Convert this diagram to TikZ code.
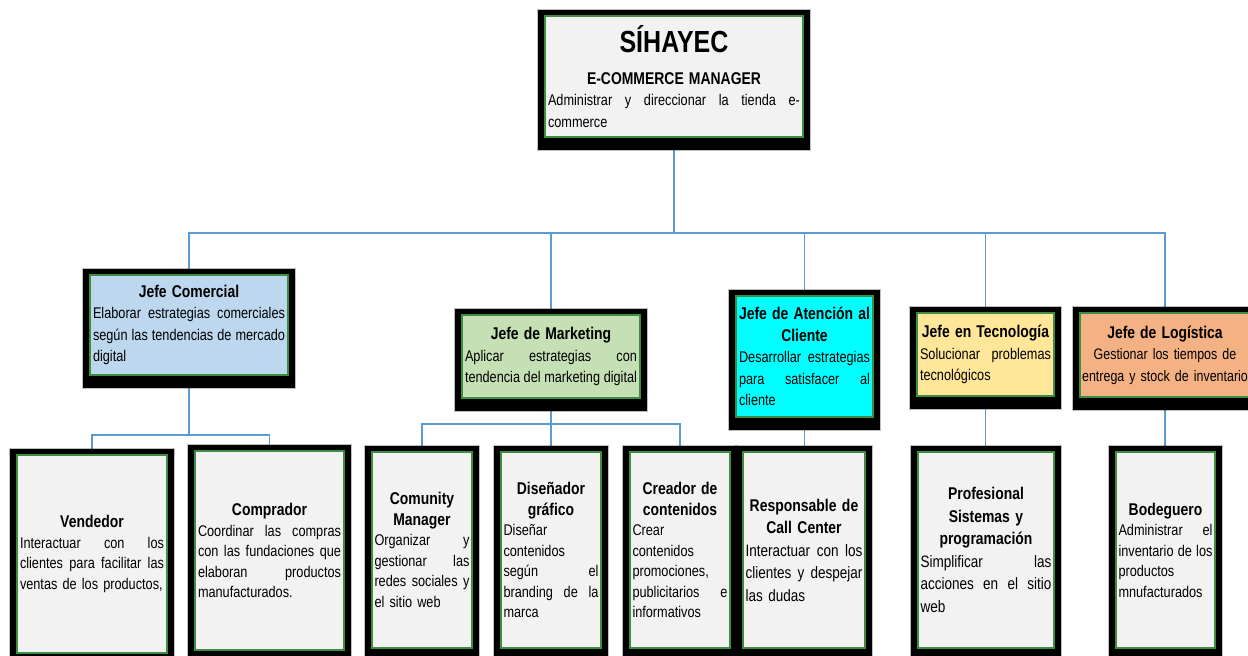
\documentclass[tikz,border=0pt]{standalone}
\usepackage{fontspec}
\setmainfont{Liberation Sans}[FakeStretch=0.82]
\pgfdeclarelayer{background}
\pgfdeclarelayer{frames}
\pgfsetlayers{background,frames,main}
\definecolor{paper}{HTML}{F2F2F2}
\definecolor{skyblue}{HTML}{BDD7EE}
\definecolor{sage}{HTML}{C5E0B4}
\definecolor{aqua}{HTML}{00FFFF}
\definecolor{butter}{HTML}{FFE699}
\definecolor{peach}{HTML}{F4B183}
\definecolor{cardedge}{HTML}{3E8E41}
\definecolor{linkblue}{HTML}{5B9BD5}
\setlength\parindent{0pt}
\setlength\parskip{0pt}
% justified line, plain line, centred line, centred bold heading
\newcommand\jl[1]{\makebox[\hsize][s]{\spaceskip=0pt\xspaceskip=0pt\relax #1}}
\newcommand\pl[1]{\makebox[\hsize][l]{#1}}
\newcommand\cl[1]{\makebox[\hsize][c]{#1}}
\newcommand\ttl[1]{\makebox[\hsize][c]{\fontsize{17}{20}\selectfont\bfseries #1}}
\begin{document}
\begin{tikzpicture}[x=1pt,y=-1pt,
  card/.style={draw=cardedge, line width=1.2pt, rectangle, inner xsep=2.5pt,
    inner ysep=2pt, align=left, font=\fontsize{15.5}{21.5}\selectfont},
  lowcard/.style={card, minimum height=196pt, font=\fontsize{15.5}{20.5}\selectfont},
  link/.style={draw=linkblue, line width=1.3pt}]
\useasboundingbox (0,0) rectangle (1248,656);
\clip (0,0) rectangle (1248,656);

% --- top level
\node[card, fill=paper, minimum width=258pt, minimum height=121pt, text width=252pt] (top) at (674,76.5)
  {\makebox[\hsize][c]{\fontsize{30.5}{31}\selectfont\bfseries SÍHAYEC}\\[10pt]
   \ttl{E-COMMERCE MANAGER}\\
   \jl{Administrar y direccionar la tienda e-}\\
   \pl{commerce}};

% --- heads of area
\node[card, fill=skyblue, minimum width=198pt, minimum height=100pt, text width=192pt] (comercial) at (189,325)
  {\ttl{Jefe Comercial}\\
   \jl{Elaborar estrategias comerciales}\\
   \jl{según las tendencias de mercado}\\
   \pl{digital}};
\node[card, fill=sage, minimum width=178pt, minimum height=83pt, text width=172pt] (marketing) at (551,356.5)
  {\ttl{Jefe de Marketing}\\
   \jl{Aplicar estrategias con}\\
   \jl{tendencia del marketing digital}};
\node[card, fill=aqua, minimum width=137pt, minimum height=121pt, text width=131pt] (atencion) at (804.5,356.5)
  {\ttl{Jefe de Atención al}\\
   \ttl{Cliente}\\
   \jl{Desarrollar estrategias}\\
   \jl{para satisfacer al}\\
   \pl{cliente}};
\node[card, fill=butter, minimum width=137pt, minimum height=83pt, text width=131pt] (tecnologia) at (985.5,354.5)
  {\ttl{Jefe en Tecnología}\\
   \jl{Solucionar problemas}\\
   \pl{tecnológicos}};
\node[card, fill=peach, minimum width=170pt, minimum height=84pt, text width=164pt,
      font=\fontsize{15.2}{21.5}\selectfont] (logistica) at (1165,355)
  {\ttl{Jefe de Logística}\\
   \cl{Gestionar los tiempos de}\\
   \cl{entrega y stock de inventario}};

% --- staff
\node[lowcard, fill=paper, minimum width=150pt, minimum height=198pt, text width=144pt] (vendedor) at (92,554)
  {\ttl{Vendedor}\\
   \jl{Interactuar con los}\\
   \jl{clientes para facilitar las}\\
   \pl{ventas de los productos,}};
\node[lowcard, fill=paper, minimum width=149pt, minimum height=199pt, text width=143pt] (comprador) at (269.5,550.5)
  {\ttl{Comprador}\\
   \jl{Coordinar las compras}\\
   \jl{con las fundaciones que}\\
   \jl{elaboran productos}\\
   \pl{manufacturados.}};
\node[lowcard, fill=paper, minimum width=100pt, text width=95pt] (comunity) at (422,550)
  {\ttl{Comunity}\\
   \ttl{Manager}\\
   \jl{Organizar y}\\
   \jl{gestionar las}\\
   \jl{redes sociales y}\\
   \pl{el sitio web}};
\node[lowcard, fill=paper, minimum width=100pt, text width=95pt] (disenador) at (551,550)
  {\ttl{Diseñador}\\
   \ttl{gráfico}\\
   \pl{Diseñar}\\
   \pl{contenidos}\\
   \jl{según el}\\
   \jl{branding de la}\\
   \pl{marca}};
\node[lowcard, fill=paper, minimum width=100pt, text width=95pt] (creador) at (680,550)
  {\ttl{Creador de}\\
   \ttl{contenidos}\\
   \pl{Crear}\\
   \pl{contenidos}\\
   \pl{promociones,}\\
   \jl{publicitarios e}\\
   \pl{informativos}};
\node[lowcard, fill=paper, minimum width=122pt, text width=117pt, font=\fontsize{16.5}{22.5}\selectfont] (responsable) at (804,550)
  {\ttl{Responsable de}\\
   \ttl{Call Center}\\
   \jl{Interactuar con los}\\
   \jl{clientes y despejar}\\
   \pl{las dudas}};
\node[lowcard, fill=paper, minimum width=136pt, text width=131pt, font=\fontsize{16.5}{22.5}\selectfont] (profesional) at (986,550)
  {\ttl{Profesional}\\
   \ttl{Sistemas y}\\
   \ttl{programación}\\
   \jl{Simplificar las}\\
   \jl{acciones en el sitio}\\
   \pl{web}};
\node[lowcard, fill=paper, minimum width=99pt, text width=94pt] (bodeguero) at (1165.5,550)
  {\ttl{Bodeguero}\\
   \jl{Administrar el}\\
   \jl{inventario de los}\\
   \pl{productos}\\
   \pl{mnufacturados}};

% --- black frames (with a soft dark rim) behind every card
\begin{pgfonlayer}{frames}
\foreach \n in {top,comercial,marketing,atencion,tecnologia,logistica,
  vendedor,comprador,comunity,disenador,creador,responsable,profesional,bodeguero}{
  \fill[black, opacity=0.25] ([xshift=-7.5pt,yshift=6.5pt]\n.north west) rectangle ([xshift=7.5pt,yshift=-13.5pt]\n.south east);
  \fill[black] ([xshift=-6pt,yshift=5pt]\n.north west) rectangle ([xshift=6pt,yshift=-12pt]\n.south east);
}
\end{pgfonlayer}

% --- connectors
\begin{pgfonlayer}{background}
\coordinate (busA) at (674,233);
\coordinate (busB) at (190,435);
\coordinate (busC) at (551,424);
\draw[link] (top.south) -- (busA);
\draw[link] (comercial.north) |- (busA) -| (logistica.north);
\draw[link] (marketing.north) -- (marketing.north |- busA);
\draw[link] (atencion.north) -- (atencion.north |- busA);
\draw[link] (tecnologia.north) -- (tecnologia.north |- busA);
\draw[link] (comercial.south) -- (comercial.south |- busB);
\draw[link] (vendedor.north) |- (busB) -| (comprador.north);
\draw[link] (marketing.south) -- (disenador.north);
\draw[link] (comunity.north) |- (busC) -| (creador.north);
\draw[link] (atencion.south) -- (atencion.south |- responsable.north);
\draw[link] (tecnologia.south) -- (tecnologia.south |- profesional.north);
\draw[link] (logistica.south) -- (logistica.south |- bodeguero.north);
\end{pgfonlayer}
\end{tikzpicture}
\end{document}
